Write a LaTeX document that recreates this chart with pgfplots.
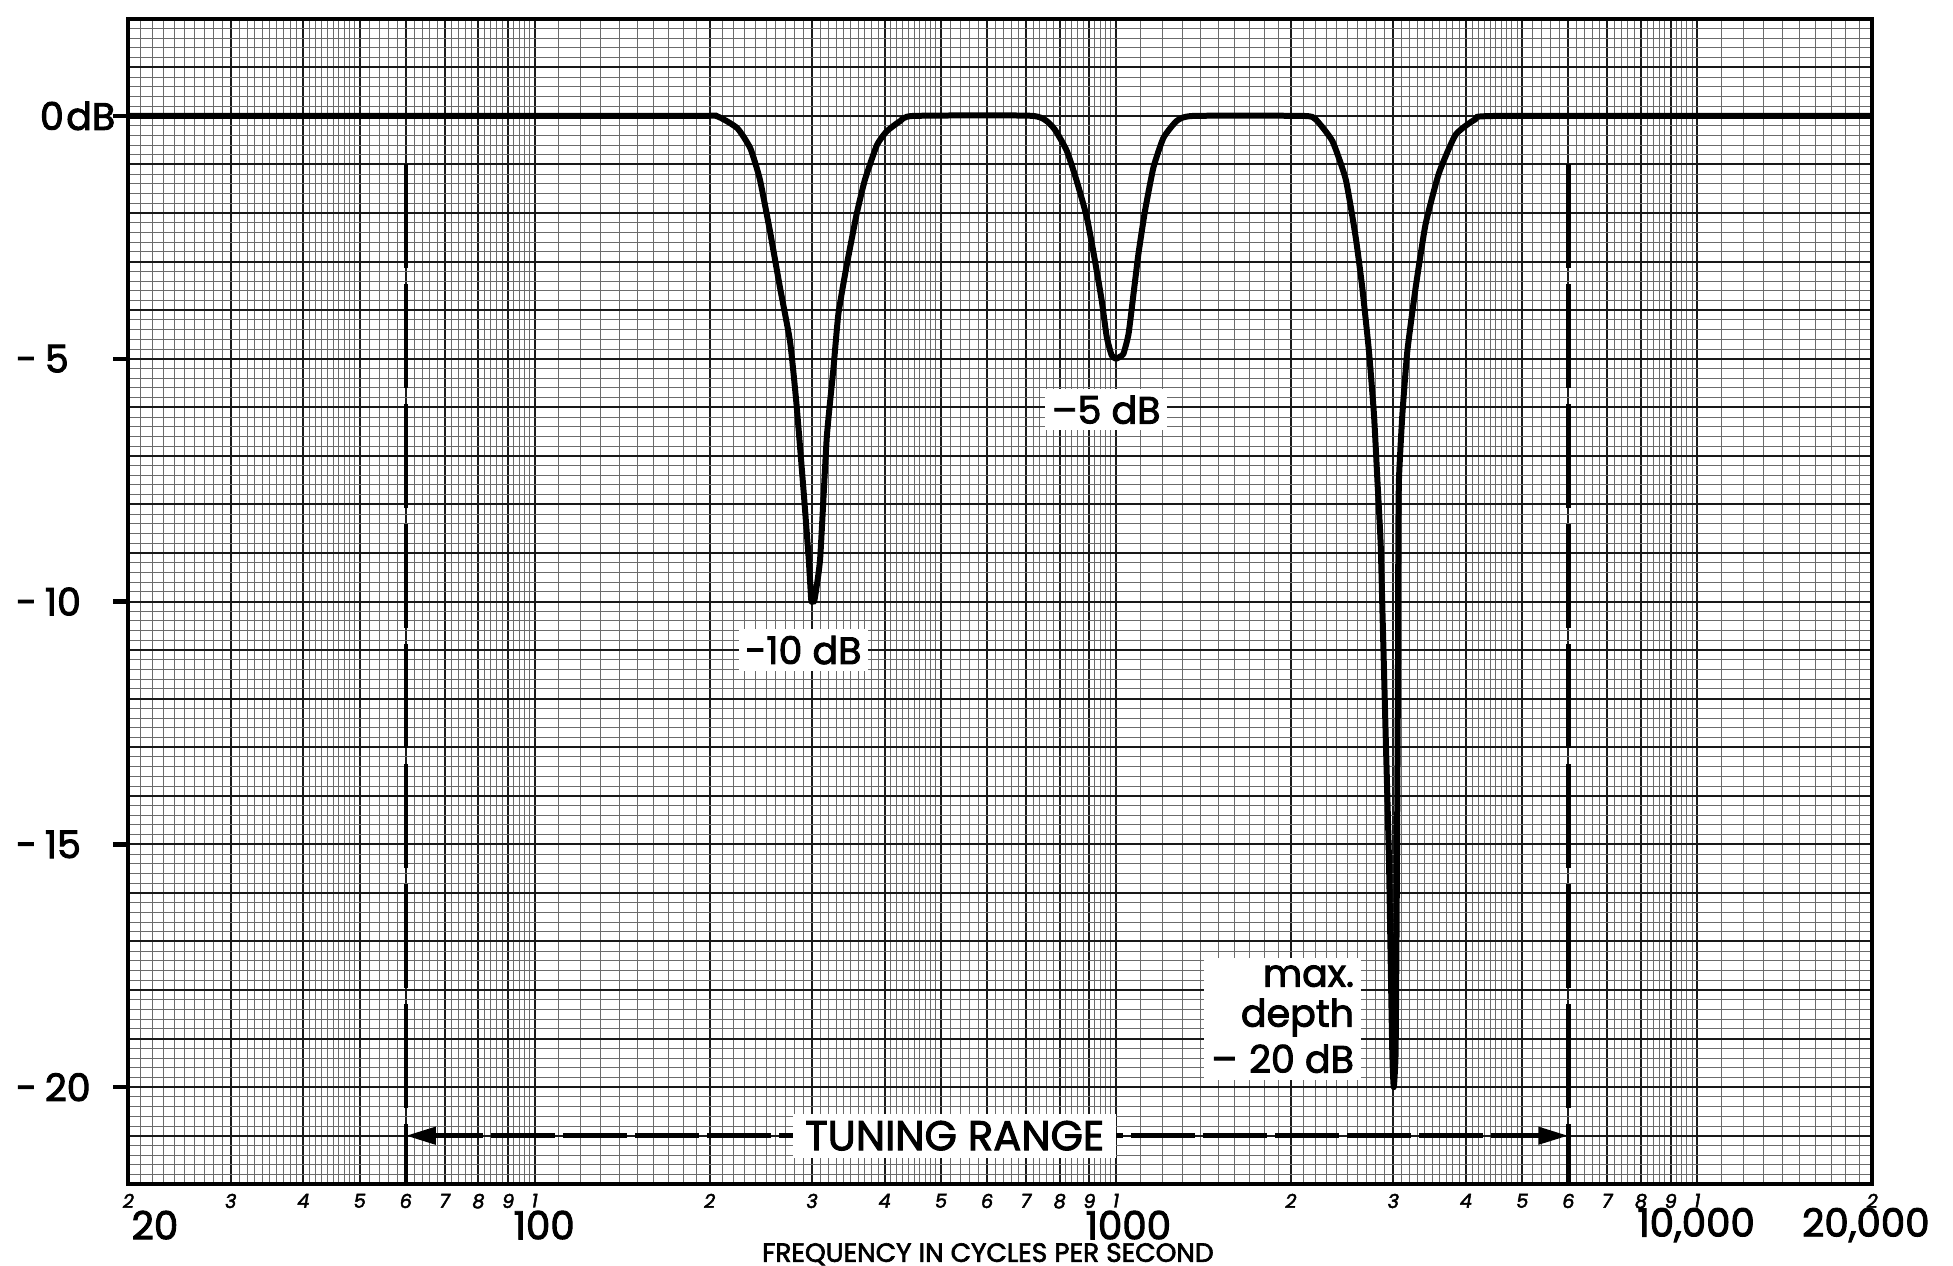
\documentclass[border=0pt]{standalone}
\usepackage{fontspec}
\setmainfont{Poppins}[FakeBold=2.4]
\usepackage{pgfplots}
\pgfplotsset{compat=1.18}
\usetikzlibrary{arrows.meta,calc}

\newcommand\biglbl{\fontsize{9.5}{10}\selectfont}
\newcommand\freqlbl{\fontsize{9.7}{10}\selectfont}
\newcommand\smalldig{\fontsize{4.8}{4.8}\selectfont\itshape}

% notch filter response (Hz, dB)
\pgfplotstableread{
f      db
20     0
180    0
205    0
223    -0.25
235    -0.67
244    -1.31
254    -2.38
264    -3.51
275    -4.65
282    -5.92
290    -7.7
296    -9.1
299    -9.96
300.5  -10
303    -9.96
309.8  -9.11
318    -6.63
326.5  -5.21
333    -4.08
344    -3.09
358    -2.02
370    -1.31
388    -0.6
403    -0.32
425    -0.11
448    0
721    0
780    -0.24
823    -0.72
856    -1.34
891    -2.09
920    -2.98
945    -3.8
964    -4.55
983    -4.93
1000   -5.0
1015   -4.96
1030   -4.9
1051   -4.49
1072   -3.66
1093   -2.84
1122   -1.95
1160   -1.06
1207   -0.45
1273   -0.1
1359   0
2100   0
2205   -0.07
2357   -0.52
2485   -1.31
2584   -2.49
2653   -3.54
2724   -4.85
2779   -6.16
2816   -7.48
2853   -8.79
2872   -10.1
2891   -11.41
2910   -12.72
2930   -14.03
2949   -15.34
2968   -17.3
2988   -19.3
3005   -20
3027   -19.3
3039   -16.66
3048   -14.03
3056   -11.41
3060   -8.79
3068   -7.48
3109   -6.16
3171   -4.85
3277   -3.54
3409   -2.23
3594   -1.18
3839   -0.39
4155   -0.07
4558   0
20000  0
}\response

\begin{document}
\begin{tikzpicture}
\begin{semilogxaxis}[
  name=ax, scale only axis,
  width=436pt, height=291.4pt,
  xmin=20, xmax=20000, ymin=-22, ymax=2,
  clip=false,
  axis line style={line width=1pt, black},
  xtick={20,30,...,100,200,300,...,1000,2000,3000,...,10000,20000},
  xticklabels={2,3,4,5,6,7,8,9,1,2,3,4,5,6,7,8,9,1,2,3,4,5,6,7,8,9,1,2},
  minor xtick={21,22,...,50,52,54,...,100,110,120,...,500,520,540,...,1000,
    1100,1200,...,5000,5200,5400,...,10000,
    11000,12000,13000,14000,15000,16000,17000,18000,19000},
  ytick={-22,-21,...,2},
  yticklabels={},
  minor y tick num=4,
  major tick length=0pt, minor tick length=0pt,
  xticklabel style={font=\smalldig, inner sep=0pt, yshift=-2.2pt},
  grid=both,
  minor grid style={black!58, line width=0.25pt},
  major grid style={black!90, line width=0.5pt},
  ytick pos=left,
  extra y ticks={0,-5,-10,-15,-20},
  extra y tick labels={},
  extra y tick style={grid=none, major tick length=3.8pt, tick align=outside,
    tick style={line width=1.1pt, black}},
]
% heavy lines bounding the tuning range
\addplot[black, line width=1.1pt, dash pattern=on 26pt off 4pt] coordinates {(60,-1) (60,-22)};
\addplot[black, line width=1.1pt, dash pattern=on 26pt off 4pt] coordinates {(6000,-1) (6000,-22)};
\addplot[black, line width=1.2pt, dash pattern=on 16pt off 2pt,
  -{Triangle[length=7.5pt,width=4.2pt]}] coordinates {(600,-21) (60,-21)};
\addplot[black, line width=1.2pt, dash pattern=on 16pt off 2pt,
  -{Triangle[length=7.5pt,width=4.2pt]}] coordinates {(600,-21) (6000,-21)};

% response curve
\addplot[black, line width=1.5pt, line join=round, smooth, tension=0.3] table[x=f, y=db] {\response};

% annotations
\node[fill=white, inner xsep=3pt, inner ysep=1.8pt, font=\fontsize{10.4}{11}\selectfont] at (axis cs:528,-21) {TUNING RANGE};
\node[fill=white, inner sep=1.6pt, font=\biglbl] at (axis cs:290,-11.0) {-10 dB};
\node[fill=white, inner sep=1.6pt, font=\biglbl] at (axis cs:962,-6.05) {–5 dB};
\node[fill=white, inner sep=1.8pt, font=\biglbl, align=right, anchor=east]
  at (axis cs:2650,-18.6) {max.\\depth\\[1.5pt]–\hspace{3pt}20 dB};

% y labels
\node[anchor=west, font=\biglbl, inner sep=0pt] at ([xshift=-22.3pt]axis cs:20,0) {0\hspace{0.6pt}dB};
\node[anchor=west, font=\biglbl, inner sep=0pt] at ([xshift=-28.3pt]axis cs:20,-5) {-\hspace{2pt}5};
\node[anchor=west, font=\biglbl, inner sep=0pt] at ([xshift=-28.3pt]axis cs:20,-10) {-\hspace{2pt}10};
\node[anchor=west, font=\biglbl, inner sep=0pt] at ([xshift=-28.3pt]axis cs:20,-15) {-\hspace{2pt}15};
\node[anchor=west, font=\biglbl, inner sep=0pt] at ([xshift=-28.3pt]axis cs:20,-20) {-\hspace{2pt}20};

% big frequency labels
\node[anchor=west, font=\freqlbl, inner sep=0pt] at ([xshift=0.6pt, yshift=-10.2pt]axis cs:20,-22) {20};
\node[font=\freqlbl, inner sep=0pt] at ([yshift=-10.2pt]axis cs:103.8,-22) {100};
\node[font=\freqlbl, inner sep=0pt] at ([yshift=-10.2pt]axis cs:1050,-22) {1000};
\node[font=\freqlbl, inner sep=0pt] at ([yshift=-10.2pt]axis cs:9953,-22) {10,000};
\node[font=\freqlbl, inner sep=0pt] at ([yshift=-10.2pt]axis cs:19500,-22) {20,000};
\node[font=\fontsize{6.6}{7}\selectfont, inner sep=0pt] at ([yshift=-17.5pt]axis cs:602,-22)
  {FREQUENCY IN CYCLES PER SECOND};
\end{semilogxaxis}
\pgfresetboundingbox
\path[use as bounding box] ($(ax.south west)+(-32.1pt,-20.2pt)$) rectangle ($(ax.north east)+(20.2pt,4.7pt)$);
\end{tikzpicture}
\end{document}
